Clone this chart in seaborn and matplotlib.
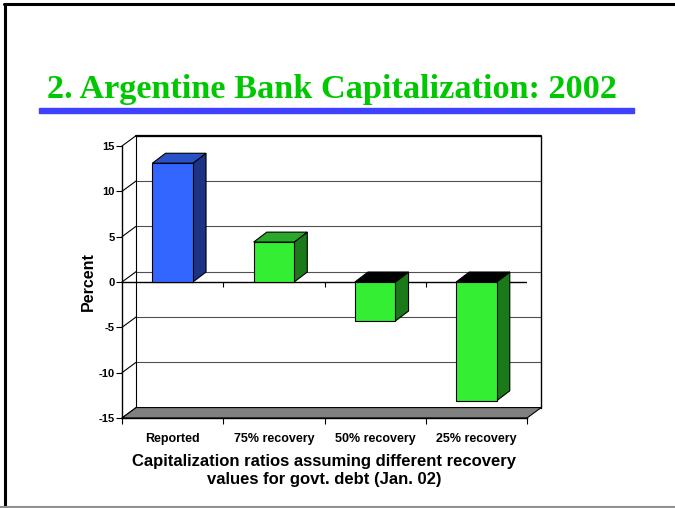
import numpy as np
import matplotlib
matplotlib.use("Agg")
import matplotlib.pyplot as plt
from matplotlib.patches import Polygon, Rectangle
from matplotlib.lines import Line2D
import seaborn as sns

# Data
categories = ["Reported", "75% recovery", "50% recovery", "25% recovery"]
percent = [13.1, 4.4, -4.3, -13.1]
y_ticks = [-15, -10, -5, 0, 5, 10, 15]

# Colours of the 3D faces
front_colors = ["#3366ff", "#33ee33", "#33ee33", "#33ee33"]
side_colors = ["#1c3483", "#1a7a1a", "#1a7a1a", "#1a7a1a"]
top_pos_colors = ["#2a52c8", "#29a829", "#29a829", "#29a829"]

sns.set_style("white")
plt.rcParams["font.family"] = ["Liberation Sans", "DejaVu Sans"]
plt.rcParams["font.weight"] = "bold"
plt.rcParams["axes.labelweight"] = "bold"
plt.rcParams["axes.unicode_minus"] = False
for key in ["text.color", "axes.labelcolor", "xtick.color", "ytick.color"]:
    plt.rcParams[key] = "black"

fig = plt.figure(figsize=(6.75, 5.08), dpi=100)
W, H = 675, 508
ax = fig.add_axes([122 / W, 1 - 418 / H, 405 / W, 272 / H])
ax.patch.set_visible(False)

sns.barplot(x=categories, y=percent, hue=categories, palette=front_colors,
            width=0.4, saturation=1, edgecolor="black", linewidth=0.8,
            legend=False, ax=ax, zorder=4)
ax.set_xlim(-0.5, len(categories) - 0.5)
ax.set_ylim(-15, 15)

# depth offsets of the walls and of the bars (data units)
wdx, wdy = 0.14, 1.15
bdx, bdy = 0.13, 1.1
x0, x1 = -0.5, len(categories) - 0.5
ylo, yhi = y_ticks[0], y_ticks[-1]

# back wall grid + left wall diagonals
for t in y_ticks:
    ax.plot([x0 + wdx, x1 + wdx], [t + wdy, t + wdy], color="#505050", lw=0.8,
            clip_on=False, zorder=1)
    ax.plot([x0, x0 + wdx], [t, t + wdy], color="black", lw=0.8,
            clip_on=False, zorder=1)
ax.plot([x0 + wdx, x1 + wdx], [yhi + wdy, yhi + wdy], color="black", lw=1.6,
        clip_on=False, zorder=1.5)
ax.plot([x0 + wdx, x0 + wdx], [ylo + wdy, yhi + wdy], color="black", lw=0.8,
        clip_on=False, zorder=1.5)
ax.plot([x1 + wdx, x1 + wdx], [ylo + wdy, yhi + wdy], color="black", lw=1.0,
        clip_on=False, zorder=1.5)

# floor
floor = Polygon([(x0, ylo), (x1, ylo), (x1 + wdx, ylo + wdy), (x0 + wdx, ylo + wdy)],
                closed=True, facecolor="#808080", edgecolor="black", lw=0.8,
                clip_on=False, zorder=2)
ax.add_patch(floor)

# front zero line with category ticks
ax.axhline(0, color="black", lw=1.0, zorder=2.5)
bounds = np.arange(x0, x1 + 0.5, 1)
ax.vlines(bounds[1:], -0.55, 0, color="black", lw=0.8, zorder=2.5)

# 3D faces of the bars
for i, p in enumerate(ax.patches[:len(categories)]):
    bx0 = p.get_x()
    bx1 = bx0 + p.get_width()
    lo = min(p.get_y(), p.get_y() + p.get_height())
    hi = max(p.get_y(), p.get_y() + p.get_height())
    side = Polygon([(bx1, lo), (bx1 + bdx, lo + bdy), (bx1 + bdx, hi + bdy), (bx1, hi)],
                   closed=True, facecolor=side_colors[i], edgecolor="black", lw=0.8,
                   clip_on=False, zorder=3.5)
    top_col = top_pos_colors[i] if percent[i] >= 0 else "black"
    top = Polygon([(bx0, hi), (bx0 + bdx, hi + bdy), (bx1 + bdx, hi + bdy), (bx1, hi)],
                  closed=True, facecolor=top_col, edgecolor="black", lw=0.8,
                  clip_on=False, zorder=3.5)
    ax.add_patch(side)
    ax.add_patch(top)

# axes styling
for s in ["top", "right"]:
    ax.spines[s].set_visible(False)
for s in ["left", "bottom"]:
    ax.spines[s].set_color("black")
    ax.spines[s].set_linewidth(1.0)
    ax.spines[s].set_zorder(2.6)
ax.set_yticks(y_ticks)
ax.tick_params(axis="y", direction="out", length=4, width=0.8, color="black",
               labelsize=8, pad=1, left=True)
ax.set_xticks(bounds, minor=True)
ax.tick_params(axis="x", which="major", length=0, labelsize=9, pad=11)
ax.tick_params(axis="x", which="minor", direction="out", length=4, width=0.8,
               color="black", bottom=True)
ax.grid(False)

ax.set_ylabel("Percent", fontsize=11.5, fontweight="bold", labelpad=2)
ax.set_xlabel("Capitalization ratios assuming different recovery\nvalues for govt. debt (Jan. 02)",
              fontsize=12, fontweight="bold", labelpad=6, linespacing=1.25)

# slide title and decoration
fig.text(46.7 / W, 1 - 97.7 / H, "2. Argentine Bank Capitalization: 2002",
         family=["Liberation Serif"], fontweight="bold", fontsize=24.7,
         color="#00c800", va="baseline", ha="left")
fig.add_artist(Rectangle((39 / W, 1 - 113.3 / H), (634 - 39) / W, 5 / H,
                         transform=fig.transFigure, color="#4040ff"))
fig.add_artist(Line2D([4 / W, 1], [1 - 4 / H, 1 - 4 / H], transform=fig.transFigure,
                      color="black", lw=2.2))
fig.add_artist(Line2D([4.5 / W, 4.5 / W], [0, 1 - 4 / H], transform=fig.transFigure,
                      color="black", lw=2.2))
fig.add_artist(Line2D([0, 1], [1.5 / H, 1.5 / H], transform=fig.transFigure,
                      color="#909090", lw=1.5))

fig.savefig("out.png", dpi=100)
